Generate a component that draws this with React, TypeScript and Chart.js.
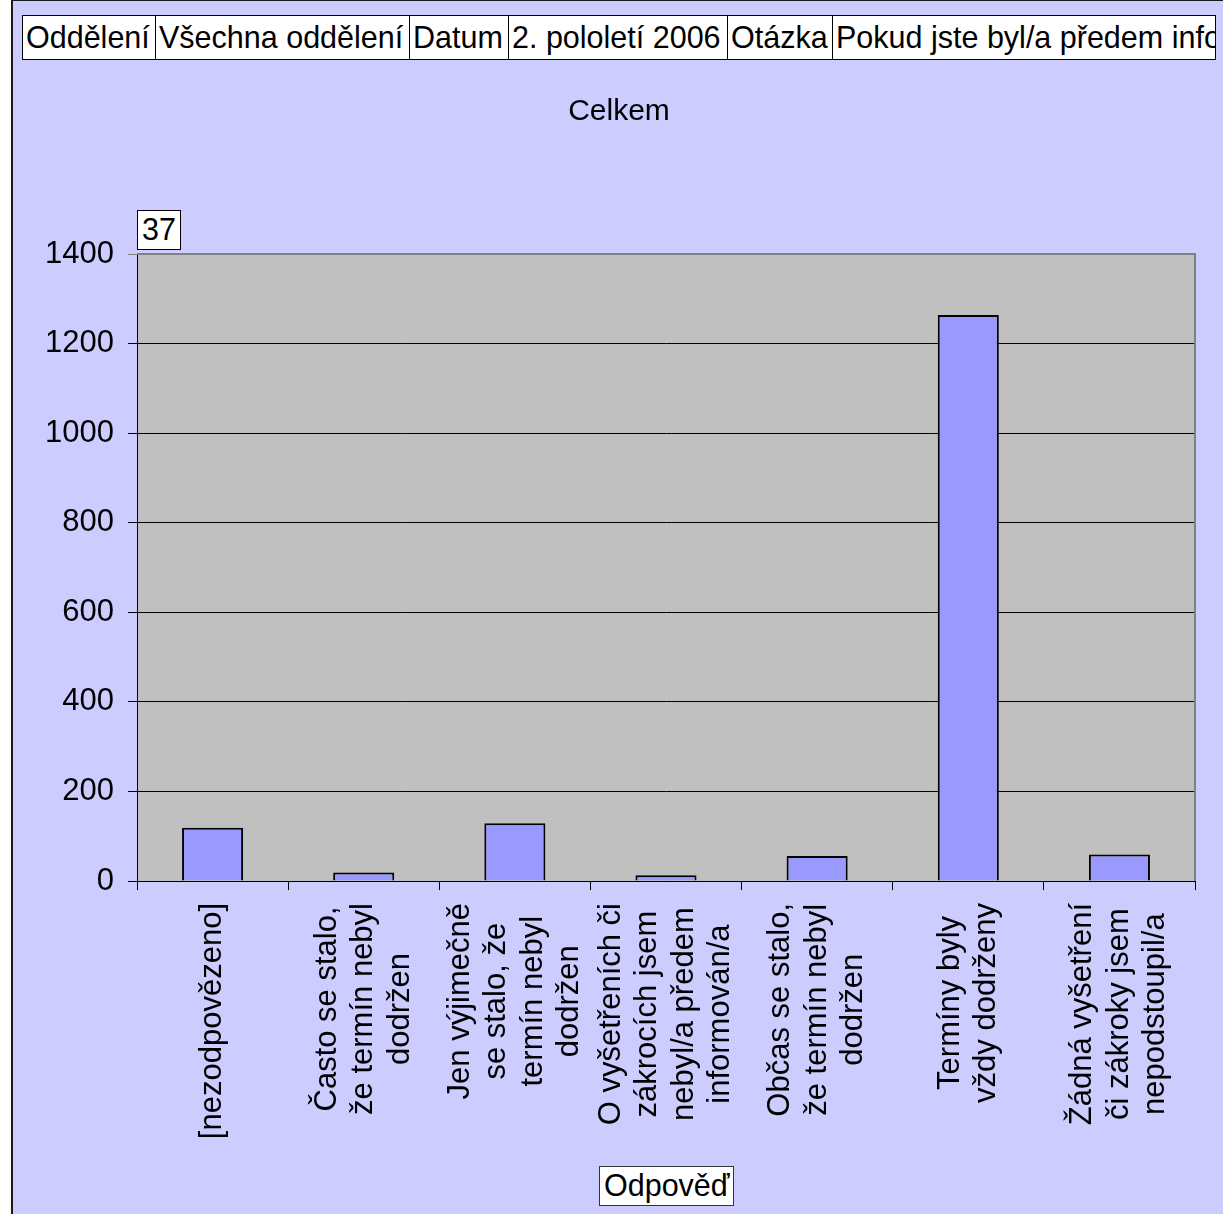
import React, { useEffect, useRef } from "react";
import { Chart, registerables } from "chart.js";

Chart.register(...registerables);

const FONT = "'Liberation Sans', Arial, Helvetica, sans-serif";

// ---- data ----
const categories: string[][] = [
  ["[nezodpovězeno]"],
  ["Často se stalo,", "že termín nebyl", "dodržen"],
  ["Jen výjimečně", "se stalo, že", "termín nebyl", "dodržen"],
  ["O vyšetřeních či", "zákrocích jsem", "nebyl/a předem", "informován/a"],
  ["Občas se stalo,", "že termín nebyl", "dodržen"],
  ["Termíny byly", "vždy dodrženy"],
  ["Žádná vyšetření", "či zákroky jsem", "nepodstoupil/a"],
];
const values: number[] = [119, 19, 129, 13, 56, 1264, 59];
const yMin = 0;
const yMax = 1400;
const yStep = 200;
const headerCells: string[] = [
  "Oddělení",
  "Všechna oddělení",
  "Datum",
  "2. pololetí 2006",
  "Otázka",
  "Pokud jste byl/a předem informován/a o termínu, byl termín dodržen?",
];
const chartTitle = "Celkem";
const countLabel = "37";
const xAxisTitle = "Odpověď";

// header cell edges (layout)
const headerEdges = [22, 155, 409, 508, 727, 832, 1215];

const plotDecor = {
  id: "plotDecor",
  beforeDraw(chart: any) {
    const { ctx, chartArea: a } = chart;
    ctx.save();
    ctx.fillStyle = "#C0C0C0";
    ctx.fillRect(a.left, a.top, a.right - a.left, a.bottom - a.top);
    ctx.restore();
  },
  afterDraw(chart: any) {
    const { ctx, chartArea: a, scales } = chart;
    ctx.save();
    ctx.strokeStyle = "#808080";
    ctx.lineWidth = 2;
    ctx.beginPath();
    ctx.moveTo(a.left, a.top);
    ctx.lineTo(a.right, a.top);
    ctx.lineTo(a.right, a.bottom);
    ctx.stroke();

    const xs = scales.x;
    ctx.fillStyle = "#000";
    ctx.font = `31px ${FONT}`;
    ctx.textAlign = "center";
    ctx.textBaseline = "middle";
    categories.forEach((lines, i) => {
      const x = xs.getPixelForValue(i);
      const maxW = Math.max(...lines.map((l) => ctx.measureText(l).width));
      const cy = a.bottom + 22 + maxW / 2;
      ctx.save();
      ctx.translate(x, cy);
      ctx.rotate(-Math.PI / 2);
      lines.forEach((l, j) => {
        ctx.fillText(l, 0, (j - (lines.length - 1) / 2) * 36.5);
      });
      ctx.restore();
    });
    ctx.restore();
  },
};

export default function App() {
  const canvasRef = useRef<HTMLCanvasElement | null>(null);

  useEffect(() => {
    if (!canvasRef.current) return;
    Chart.defaults.font.family = FONT;
    const chart = new Chart(canvasRef.current, {
      type: "bar",
      data: {
        labels: categories.map((c) => c.join(" ")),
        datasets: [
          {
            data: values,
            backgroundColor: "#9999FF",
            borderColor: "#000000",
            borderWidth: 2,
            barPercentage: 0.404,
            categoryPercentage: 1,
          },
        ],
      },
      options: {
        responsive: false,
        animation: false,
        devicePixelRatio: 1,
        layout: { padding: { top: 254, right: 28, left: 0, bottom: 0 } },
        plugins: {
          legend: { display: false },
          title: { display: false },
          tooltip: { enabled: false },
        },
        scales: {
          x: {
            offset: true,
            grid: {
              display: true,
              drawOnChartArea: false,
              drawTicks: true,
              tickLength: 9,
              color: "#000",
              offset: true,
            },
            border: { display: true, color: "#000", width: 1 },
            ticks: { display: false },
            afterFit: (scale: any) => {
              scale.height = 333;
            },
          },
          y: {
            min: yMin,
            max: yMax,
            grid: {
              color: (c: any) => (c.tick && c.tick.value === yMax ? "#808080" : "#000"),
              tickLength: 9,
              lineWidth: 1,
            },
            border: { display: true, color: "#000", width: 1 },
            ticks: {
              stepSize: yStep,
              color: "#000",
              padding: 14,
              font: { size: 31, family: FONT },
              callback: (v: any) => String(v),
            },
            afterFit: (scale: any) => {
              scale.width = 137;
            },
          },
        },
      },
      plugins: [plotDecor],
    });
    return () => chart.destroy();
  }, []);

  const cellStyle = (i: number): React.CSSProperties => ({
    position: "absolute",
    left: headerEdges[i],
    top: 15,
    width: headerEdges[i + 1] - headerEdges[i] + 1,
    height: 45,
    boxSizing: "border-box",
    border: "1px solid #000",
    background: "#fff",
    font: `30.5px ${FONT}`,
    lineHeight: "42px",
    paddingLeft: 3,
    whiteSpace: "nowrap",
    overflow: "hidden",
    color: "#000",
  });

  return (
    <div
      style={{
        position: "absolute",
        left: 0,
        top: 0,
        width: 1223,
        height: 1214,
        overflow: "hidden",
        background: "#fff",
      }}
    >
      <div
        style={{
          position: "absolute",
          left: 11,
          top: -1,
          width: 1212,
          height: 1215,
          boxSizing: "border-box",
          borderLeft: "2px solid #1a1a1a",
          borderTop: "2px solid #1a1a1a",
          background: "#CCCCFF",
        }}
      />
      <canvas
        ref={canvasRef}
        width={1223}
        height={1214}
        style={{ position: "absolute", left: 0, top: 0, width: 1223, height: 1214 }}
      />
      {headerCells.map((t, i) => (
        <div key={i} style={cellStyle(i)}>
          {t}
        </div>
      ))}
      <div
        style={{
          position: "absolute",
          left: 519,
          top: 93,
          width: 200,
          height: 36,
          lineHeight: "36px",
          textAlign: "center",
          font: `30px ${FONT}`,
          color: "#000",
        }}
      >
        {chartTitle}
      </div>
      <div
        style={{
          position: "absolute",
          left: 137,
          top: 210,
          width: 44,
          height: 40,
          boxSizing: "border-box",
          border: "1px solid #000",
          background: "#fff",
          paddingLeft: 4,
          font: `30.5px ${FONT}`,
          lineHeight: "37px",
          color: "#000",
        }}
      >
        {countLabel}
      </div>
      <div
        style={{
          position: "absolute",
          left: 599,
          top: 1166,
          width: 135,
          height: 40,
          boxSizing: "border-box",
          border: "1px solid #333",
          background: "#fff",
          paddingLeft: 4,
          font: `30.5px ${FONT}`,
          lineHeight: "37px",
          color: "#000",
          whiteSpace: "nowrap",
        }}
      >
        {xAxisTitle}
      </div>
    </div>
  );
}
